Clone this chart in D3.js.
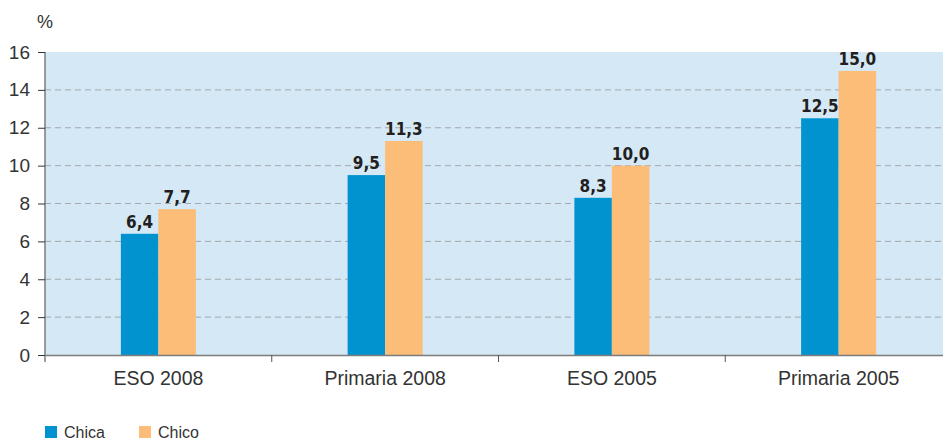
<!DOCTYPE html>
<html>
<head>
<meta charset="utf-8">
<script src="https://cdn.jsdelivr.net/npm/d3@7"></script>
<style>
  body { margin: 0; background: #fff; }
  svg text { font-family: "Liberation Sans", Arial, sans-serif; }
  svg text.val { font-family: "DejaVu Sans Condensed", "Liberation Sans", sans-serif; }
</style>
</head>
<body>
<div id="chart-area"></div>
<script>
// DATA
const categories = ["ESO 2008", "Primaria 2008", "ESO 2005", "Primaria 2005"]
const series = ["Chica", "Chico"]
const chica = [6.4, 9.5, 8.3, 12.5]
const chico = [7.7, 11.3, 10.0, 15.0]
const yTicks = [0, 2, 4, 6, 8, 10, 12, 14, 16]

const colors = { Chica: "#0093d0", Chico: "#fbbd77" }

// CHART AREA
const W = 943, H = 440
const margin = { left: 45, right: -9, top: 52, bottom: 85 }
const width = W - margin.left - margin.right
const height = H - margin.top - margin.bottom

const svg = d3.select("#chart-area")
  .append("svg")
    .attr("width", W)
    .attr("height", H)

const chart = svg.append("g")
  .attr("transform", "translate(" + margin.left + ", " + margin.top + ")")

const xScale = d3.scaleBand()
  .domain(categories)
  .range([0, width])
  .padding(0)

const barW = 37.5
const xInner = d3.scaleBand()
  .domain(series)
  .range([0, barW * 2])

const yScale = d3.scaleLinear()
  .domain([0, 16])
  .range([height, 0])

// plot background
chart.append("rect")
  .attr("x", 0).attr("y", 0)
  .attr("width", width).attr("height", height)
  .attr("fill", "#d4e8f5")

// dashed grid lines
chart.append("g")
  .selectAll("line")
  .data(yTicks.filter(d => d > 0 && d < 16))
  .enter().append("line")
    .attr("x1", 0).attr("x2", width)
    .attr("y1", d => yScale(d)).attr("y2", d => yScale(d))
    .attr("stroke", "#a3a9ae")
    .attr("stroke-width", 1)
    .attr("stroke-dasharray", "6,4")

// bars
const rows = categories.map((c, i) => ({ cat: c, Chica: chica[i], Chico: chico[i] }))

const groups = chart.selectAll(".grp")
  .data(rows)
  .enter().append("g")
    .attr("class", "grp")
    .attr("transform", d => "translate(" + (xScale(d.cat) + xScale.bandwidth() / 2 - barW) + ",0)")

groups.selectAll("rect")
  .data(d => series.map(s => ({ s: s, v: d[s] })))
  .enter().append("rect")
    .attr("x", d => xInner(d.s))
    .attr("y", d => yScale(d.v))
    .attr("width", xInner.bandwidth())
    .attr("height", d => height - yScale(d.v))
    .attr("fill", d => colors[d.s])

groups.selectAll(".val")
  .data(d => series.map(s => ({ s: s, v: d[s] })))
  .enter().append("text")
    .attr("class", "val")
    .attr("x", d => xInner(d.s) + xInner.bandwidth() / 2)
    .attr("y", d => yScale(d.v) - 6)
    .attr("text-anchor", "middle")
    .attr("font-size", "17px")
    .attr("font-weight", "bold")
    .attr("fill", "#231f20")
    .text(d => d.v.toFixed(1).replace(".", ","))

// AXES
const yAxisCall = d3.axisLeft(yScale)
  .tickValues(yTicks)
  .tickSize(7)
  .tickPadding(8)
  .tickFormat(d => d)
const yAxis = chart.append("g")
  .attr("class", "y-axis")
  .call(yAxisCall)
yAxis.attr("font-family", null)
yAxis.select(".domain").attr("stroke", "#7c7c7c").attr("stroke-width", 1.5)
  .attr("d", "M0," + (height + 7) + "V0")
yAxis.selectAll(".tick line").attr("stroke", "#333")
yAxis.selectAll(".tick text")
  .attr("font-size", "19px")
  .attr("fill", "#333")

const xAxisCall = d3.axisBottom(xScale).tickSize(0).tickPadding(16)
const xAxis = chart.append("g")
  .attr("class", "x-axis")
  .attr("transform", "translate(0, " + height + ")")
  .call(xAxisCall)
xAxis.attr("font-family", null)
xAxis.select(".domain").attr("stroke", "#7c7c7c").attr("stroke-width", 1.5)
xAxis.selectAll(".tick text")
  .attr("font-size", "19.5px")
  .attr("fill", "#333")

// category separators
chart.append("g")
  .selectAll("line")
  .data(categories.slice(1))
  .enter().append("line")
    .attr("x1", d => xScale(d)).attr("x2", d => xScale(d))
    .attr("y1", height).attr("y2", height + 7)
    .attr("stroke", "#555")

// unit label
svg.append("text")
  .attr("x", 37).attr("y", 28)
  .attr("font-size", "18px")
  .attr("fill", "#333")
  .text("%")

// LEGEND
const legend = svg.append("g")
  .attr("transform", "translate(45, 426)")
legend.selectAll("g")
  .data(series)
  .enter().append("g")
    .attr("transform", (d, i) => "translate(" + (i * 94) + ",0)")
    .each(function(d) {
      const g = d3.select(this)
      g.append("rect").attr("width", 12).attr("height", 12).attr("fill", colors[d])
      g.append("text").attr("x", 19).attr("y", 12)
        .attr("font-size", "16px").attr("fill", "#333").text(d)
    })
</script>
</body>
</html>
